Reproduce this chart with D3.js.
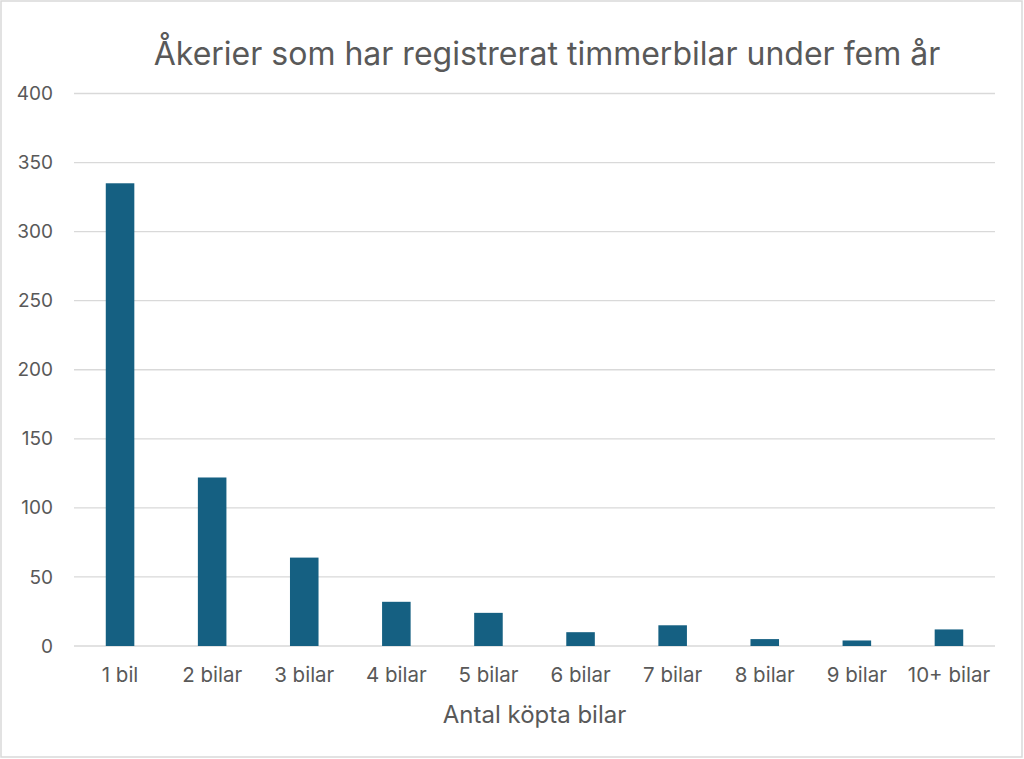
<!DOCTYPE html>
<html>
<head>
<meta charset="utf-8">
<script src="https://cdn.jsdelivr.net/npm/d3@7"></script>
<style>
  body { margin: 0; background: #fff; }
  svg { display: block; }
</style>
</head>
<body>
<div id="chart"></div>
<script>
const categories = ["1 bil", "2 bilar", "3 bilar", "4 bilar", "5 bilar", "6 bilar", "7 bilar", "8 bilar", "9 bilar", "10+ bilar"]
const counts = [335, 122, 64, 32, 24, 10, 15, 5, 4, 12]
const yTicks = [0, 50, 100, 150, 200, 250, 300, 350, 400]
const title = "Åkerier som har registrerat timmerbilar under fem år"
const xTitle = "Antal köpta bilar"

const data = categories.map((c, i) => ({ category: c, count: counts[i] }))

const width = 1024
const height = 759
const margin = { top: 93.5, right: 29, bottom: 113, left: 74 }
const font = "Inter, 'Open Sans', sans-serif"
const textColor = "#595959"

const svg = d3.select("#chart")
  .append("svg")
    .attr("width", width)
    .attr("height", height)

// chart border
svg.append("rect")
  .attr("x", 1)
  .attr("y", 1)
  .attr("width", width - 3)
  .attr("height", height - 3)
  .attr("fill", "#fff")
  .attr("stroke", "#d9d9d9")
  .attr("stroke-width", 1.5)

const xScale = d3.scaleBand()
  .domain(categories)
  .range([margin.left, width - margin.right])
  .paddingInner(0.69)
  .paddingOuter(0.345)

const yScale = d3.scaleLinear()
  .domain([0, 400])
  .range([height - margin.bottom, margin.top])

// gridlines
svg.append("g")
  .selectAll("line")
  .data(yTicks)
  .join("line")
    .attr("x1", margin.left)
    .attr("x2", width - margin.right)
    .attr("y1", d => yScale(d))
    .attr("y2", d => yScale(d))
    .attr("stroke", "#d9d9d9")
    .attr("stroke-width", 1.3)

// y axis labels
const yAxis = svg.append("g")
  .attr("transform", `translate(${margin.left - 21}, 0)`)
  .call(d3.axisLeft(yScale).tickValues(yTicks).tickSize(0).tickPadding(0))
yAxis.select(".domain").remove()
yAxis.selectAll("text")
  .attr("fill", textColor)
  .style("font-family", font)
  .style("font-size", "19px")

// bars
svg.append("g")
  .selectAll("rect")
  .data(data)
  .join("rect")
    .attr("x", d => xScale(d.category))
    .attr("y", d => yScale(d.count))
    .attr("width", xScale.bandwidth())
    .attr("height", d => yScale(0) - yScale(d.count))
    .attr("fill", "#156082")

// x axis labels
const xAxis = svg.append("g")
  .attr("transform", `translate(0, ${yScale(0) + 21})`)
  .call(d3.axisBottom(xScale).tickSize(0).tickPadding(0))
xAxis.select(".domain").remove()
xAxis.selectAll("text")
  .attr("fill", textColor)
  .attr("dy", "0.71em")
  .style("font-family", font)
  .style("font-size", "20.5px")

// title
svg.append("text")
  .text(title)
  .attr("x", 547)
  .attr("y", 65)
  .attr("text-anchor", "middle")
  .attr("fill", textColor)
  .style("font-family", font)
  .style("font-size", "32px")

// x axis title
svg.append("text")
  .text(xTitle)
  .attr("x", (margin.left + width - margin.right) / 2)
  .attr("y", 723)
  .attr("text-anchor", "middle")
  .attr("fill", textColor)
  .style("font-family", font)
  .style("font-size", "24px")
</script>
</body>
</html>
